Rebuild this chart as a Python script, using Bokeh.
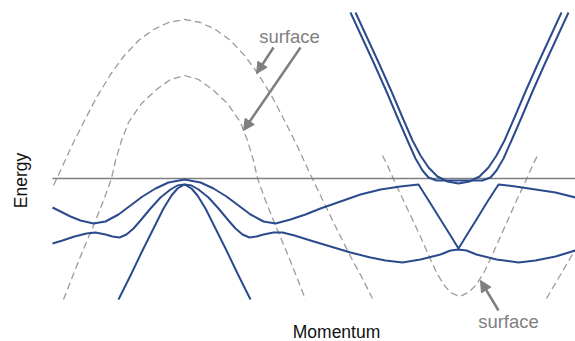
import math
from bokeh.plotting import figure
from bokeh.models import Range1d, Label, Arrow, NormalHead
from bokeh.embed import file_html
from bokeh.resources import INLINE

# ---- data (momentum k, energy E; arbitrary units, Fermi level at E = 0) ----
fermi_k = [52, 575]
fermi_E = [0, 0]

# surface bands (dashed)
surfA_k = [53, 60, 71, 83, 96, 110, 123, 138, 153, 168, 184, 200, 215, 230, 245, 258, 272, 285, 297, 308, 320, 335, 350, 362, 372]
surfA_E = [-7, 8, 32, 56, 81, 104, 122, 138, 149, 156, 159, 156, 149, 138, 122, 104, 81, 56, 32, 8, -17, -48, -78, -100, -120]

surfB_k = [63, 72, 82, 93, 103, 111, 115, 121, 128, 141, 156, 170, 184, 198, 212, 227, 240, 247, 253, 257, 265, 275, 286, 296, 305]
surfB_E = [-121, -98, -73, -47, -22, 0, 18, 38, 56, 75, 89, 99, 103, 99, 89, 75, 56, 38, 18, 0, -22, -47, -73, -98, -121]

surfC_k = [382, 387, 395, 403, 411, 419, 427, 435, 443, 450, 459, 468, 476, 484, 492, 500, 508, 516, 524, 532, 537]
surfC_E = [23, 13, -5, -22, -39, -56, -74, -92, -106, -114, -118, -114, -106, -93, -76, -58, -40, -22, -5, 13, 23]

surfD_k = [546, 556, 566, 576]
surfD_E = [-120, -103, -86, -69]

# bulk bands (solid)
v1_k = [52, 60, 70, 80, 93, 105, 118, 130, 142, 155, 168, 184, 200, 213, 226, 238, 250, 263, 275, 290, 305, 320, 340, 360, 380, 400, 418,
        430, 440, 450, 458, 466, 476, 487, 498, 515, 535, 555, 575]
v1_E = [-29, -33, -38, -42, -45, -43, -36, -27, -18, -10, -4, -1, -4, -10, -18, -27, -36, -43, -45, -41, -36, -30, -23, -16, -11, -8, -6,
        -25, -41, -57, -70, -57, -41, -23, -6, -8, -11, -14, -19]

v2_k = [52, 62, 74, 86, 95, 105, 112, 119, 126, 133, 140, 150, 160, 170, 177, 184, 191, 198, 208, 218, 228, 235, 242, 249, 256,
        263, 273, 282, 294, 310, 330, 350, 370, 385, 402, 420, 440, 450, 458, 466, 476, 496, 518, 535, 555, 575]
v2_E = [-65, -62, -58, -55, -54, -56, -58, -59, -56, -50, -42, -30, -19, -11, -7, -6, -7, -11, -19, -30, -42, -50, -56, -59, -58,
        -56, -54, -54, -57, -62, -68, -74, -79, -82, -84, -81, -76, -72, -71, -72, -76, -81, -84, -82, -78, -72]

v3_k = [118, 130, 142, 153, 163, 171, 177, 184, 191, 197, 205, 215, 226, 238, 250]
v3_E = [-121, -97, -72, -50, -30, -17, -10, -6, -10, -17, -30, -50, -72, -97, -121]

c1_k = [350, 362, 374, 386, 397, 407, 415, 422, 428, 436, 447, 458, 470, 482, 490, 496, 503, 511, 521, 532, 544, 556, 568]
c1_E = [166, 140, 114, 87, 61, 38, 20, 8, 1, -2, -2, -2, -2, -2, 1, 8, 20, 38, 61, 87, 114, 140, 166]

c2_k = [355, 367, 379, 391, 402, 412, 420, 428, 437, 447, 458, 469, 479, 488, 496, 504, 514, 525, 537, 549, 561]
c2_E = [166, 140, 114, 87, 61, 38, 23, 11, 2, -3, -5, -3, 2, 11, 23, 38, 61, 87, 114, 140, 166]

# annotations: arrows (tail -> tip) and labels
arrow_k0 = [273, 300, 498]
arrow_E0 = [131, 131, -132]
arrow_k1 = [256, 243, 480]
arrow_E1 = [105, 48, -102]

label_texts = ["surface", "surface"]
label_k = [289, 508]
label_E = [142, -143]

x_title = "Momentum"
y_title = "Energy"

# ---- figure ----
BLUE = "#2b4b8c"
DASH = "#9b9b9b"
GREY = "#7f7f7f"

p = figure(width=575, height=341, x_range=Range1d(0, 575), y_range=Range1d(-163, 178),
           output_backend="svg", toolbar_location=None, min_border=0,
           x_axis_type=None, y_axis_type=None)
p.outline_line_color = None
p.grid.visible = False
p.background_fill_color = "white"

for kk, ee in [(surfA_k, surfA_E), (surfB_k, surfB_E), (surfC_k, surfC_E), (surfD_k, surfD_E)]:
    p.line(kk, ee, line_color=DASH, line_width=1.3, line_dash="7 4")

p.line(fermi_k, fermi_E, line_color=GREY, line_width=1.5)

for kk, ee in [(v1_k, v1_E), (v2_k, v2_E), (v3_k, v3_E), (c1_k, c1_E), (c2_k, c2_E)]:
    p.line(kk, ee, line_color=BLUE, line_width=2, line_join="round")

for x0, y0, x1, y1 in zip(arrow_k0, arrow_E0, arrow_k1, arrow_E1):
    p.add_layout(Arrow(end=NormalHead(size=11, fill_color=GREY, line_color=GREY, line_width=1),
                       x_start=x0, y_start=y0, x_end=x1, y_end=y1,
                       line_color=GREY, line_width=2.5))

for t, x, y in zip(label_texts, label_k, label_E):
    p.add_layout(Label(x=x, y=y, text=t, text_align="center", text_baseline="alphabetic",
                       text_font="Liberation Sans", text_font_size="18.5px", text_color=GREY))

p.add_layout(Label(x=336, y=-153, text=x_title, text_align="center", text_baseline="alphabetic",
                   text_font="Liberation Sans", text_font_size="17.5px", text_color="#111111"))
p.add_layout(Label(x=20, y=-2, text=y_title, angle=math.pi / 2, text_align="center",
                   text_baseline="alphabetic", text_font="Liberation Sans",
                   text_font_size="17.5px", text_color="#111111"))

open("out.html", "w").write(file_html(p, INLINE))
